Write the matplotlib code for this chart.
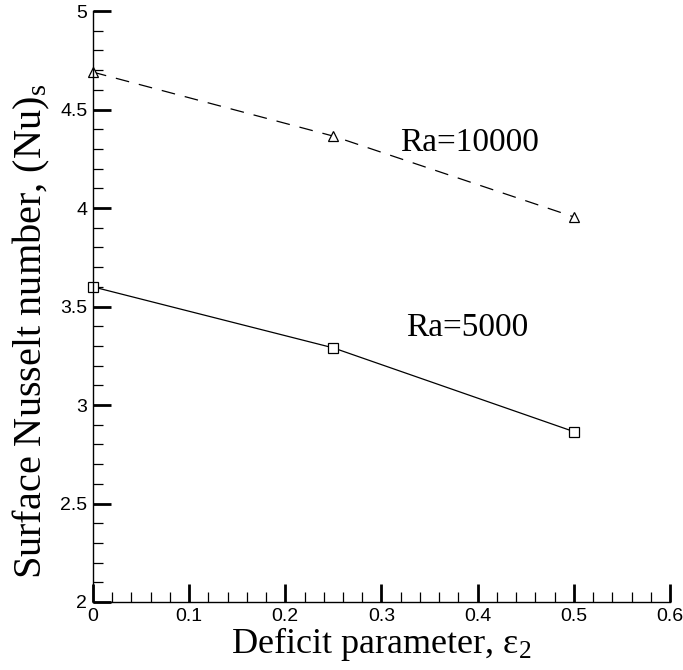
import matplotlib
matplotlib.use("Agg")
import matplotlib.pyplot as plt
from matplotlib.ticker import MultipleLocator

plt.rcParams["mathtext.fontset"] = "custom"
plt.rcParams["mathtext.rm"] = "Liberation Serif"
plt.rcParams["mathtext.it"] = "Liberation Serif:italic"

# deficit parameter eps_2 and surface Nusselt number for two Rayleigh numbers
eps2 = [0.0, 0.25, 0.5]
nu_ra5000 = [3.60, 3.29, 2.865]
nu_ra10000 = [4.69, 4.365, 3.955]

xticks = [0, 0.1, 0.2, 0.3, 0.4, 0.5, 0.6]
xticklabels = ["0", "0.1", "0.2", "0.3", "0.4", "0.5", "0.6"]
yticks = [2, 2.5, 3, 3.5, 4, 4.5, 5]
yticklabels = ["2", "2.5", "3", "3.5", "4", "4.5", "5"]

fig = plt.figure(figsize=(6.83, 6.70), dpi=100)
ax = fig.add_axes([0.136, 0.1015, 0.845, 0.882])

ax.plot(eps2, nu_ra5000, color="black", lw=0.9, marker="s", ms=7,
        mfc="white", mec="black", mew=0.9, clip_on=False)
ax.plot(eps2, nu_ra10000, color="black", lw=0.9, ls=(0, (11, 8)), marker="^", ms=7,
        mfc="white", mec="black", mew=0.9, clip_on=False)

serif = ["Liberation Serif", "DejaVu Serif"]
ax.text(0.319, 4.33, "Ra=10000", family=serif, fontsize=24, va="center", ha="left")
ax.text(0.326, 3.39, "Ra=5000", family=serif, fontsize=24, va="center", ha="left")

ax.set_xlim(0, 0.6)
ax.set_ylim(2, 5)
ax.set_xticks(xticks)
ax.set_xticklabels(xticklabels)
ax.set_yticks(yticks)
ax.set_yticklabels(yticklabels)
ax.xaxis.set_minor_locator(MultipleLocator(0.02))
ax.yaxis.set_minor_locator(MultipleLocator(0.1))

for side in ("top", "right"):
    ax.spines[side].set_visible(False)
for side in ("left", "bottom"):
    ax.spines[side].set_linewidth(1.0)

ax.tick_params(which="major", direction="in", length=13, width=2.0,
               labelsize=14, pad=4)
ax.tick_params(which="minor", direction="in", length=7, width=0.9)
for lbl in ax.get_xticklabels() + ax.get_yticklabels():
    lbl.set_family(["Liberation Sans", "DejaVu Sans"])

ax.set_xlabel(r"Deficit parameter, ε$\mathregular{_2}$", family=serif, fontsize=26, labelpad=0)
ax.set_ylabel(r"Surface Nusselt number, (Nu)$\mathregular{_s}$", family=serif, fontsize=29)
ax.yaxis.set_label_coords(-0.07, 0.458)

fig.savefig("out.png", dpi=100)
